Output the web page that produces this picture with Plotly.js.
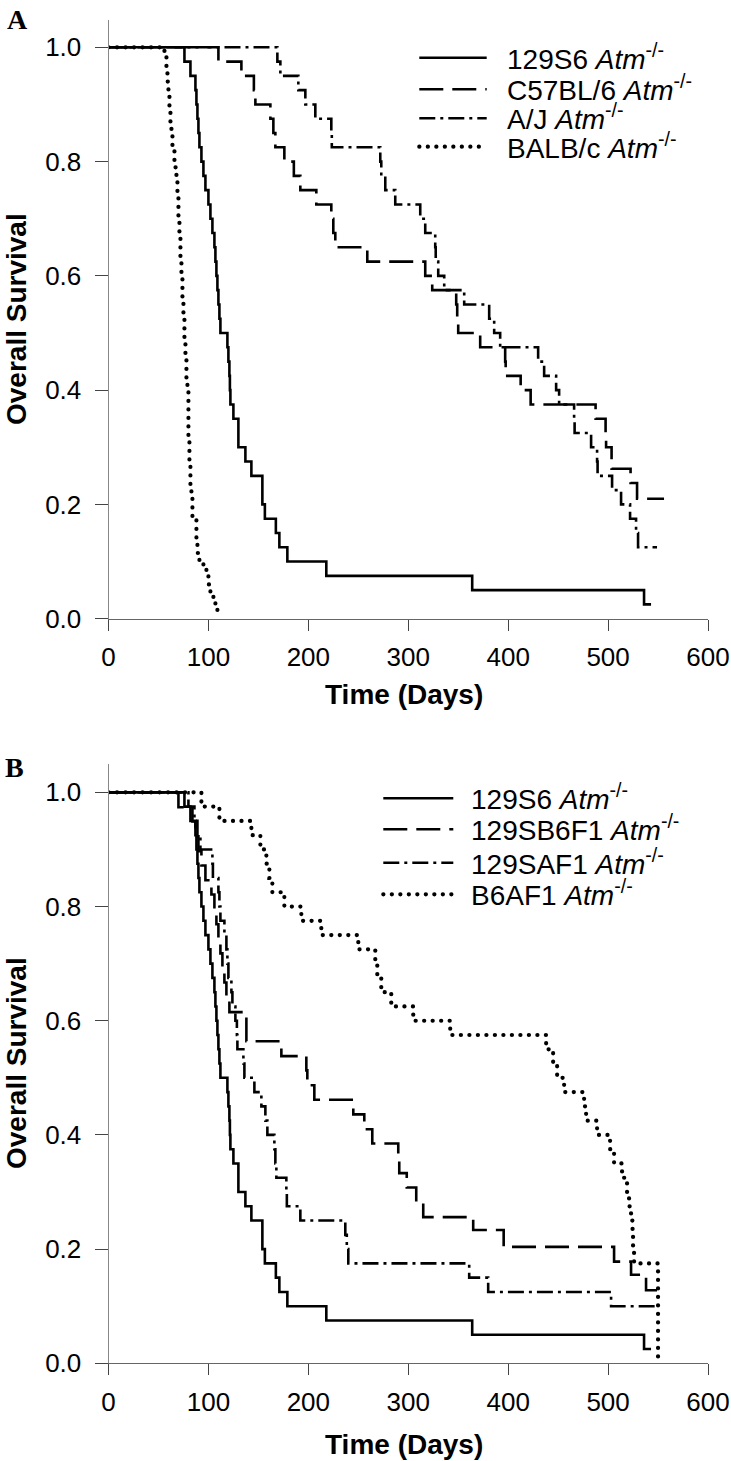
<!DOCTYPE html>
<html>
<head>
<meta charset="utf-8">
<script src="https://cdn.plot.ly/plotly-3.0.1.min.js"></script>
<style>
  html, body { margin: 0; padding: 0; background: #fff; }
  #chart { width: 731px; height: 1461px; }
</style>
</head>
<body>
<div id="chart"></div>
<script>
// ---------------- Panel A data (Kaplan-Meier steps: time in days, survival fraction) ----------------
const a129S6Days = [0,76,82,87,88,89,90,91,93,95,97,100,102,104,106,107,108,109,110,111,112,119,120,121,121.5,122,125,130,137,143,154,156.5,167.5,171,179,218,364,536,543];
const a129S6Surv = [1,.975,.95,.925,.9,.875,.85,.825,.8,.775,.75,.725,.7,.675,.65,.625,.6,.575,.55,.525,.5,.475,.45,.425,.4,.375,.35,.3,.275,.25,.2,.175,.15,.125,.1,.075,.05,.025,.025];

const aC57Days = [0,110,133,145.5,147,162,165,167,176,185.5,192,208,223,225,227,259,317,324,348,349,350,372,397,397.5,412.5,422.5,487.5,497.5,498,503.5,522.5,529,556];
const aC57Surv = [1,.975,.95,.925,.9,.875,.85,.825,.8,.775,.75,.725,.7,.675,.65,.625,.6,.575,.55,.525,.5,.475,.45,.425,.4,.375,.35,.325,.3,.2625,.2375,.21,.21];

const aAJDays = [0,169,172,190,197,207,223,223.5,272,273,277,287,312,317,327,327.5,330,336,356,381,386,392,430,436,448,451,466,466.5,483,489,489.5,504,513,522,528,530,549];
const aAJSurv = [1,.975,.95,.925,.9,.875,.85,.825,.8,.775,.75,.725,.7,.675,.65,.625,.6,.575,.55,.525,.5,.475,.45,.425,.4,.375,.35,.325,.3,.275,.25,.225,.2,.175,.15,.125,.125];

const aBALBDays = [0,56,58,59,60,61,62,63,64,66,67,68,69,70,71,72,73,74,75,76,77,78,79,80,81,82,83,84,88,89,91,95,98,100,102,105,107,109];
const aBALBSurv = [1,.985,.96,.94,.92,.89,.87,.845,.82,.80,.79,.77,.74,.70,.675,.625,.60,.56,.525,.49,.46,.42,.40,.31,.27,.235,.21,.175,.14,.115,.10,.09,.075,.06,.045,.035,.025,.012];

// ---------------- Panel B data ----------------
const b129S6Days = a129S6Days;
const b129S6Surv = a129S6Surv;

const bSB6F1Days = [0,70,84,87,90,93,97,103,106,108,110,112,114,116,118,121,138,173,198,199,206,245,256,264,290,291,298.5,308,315,365,395.5,506,523,538,549];
const bSB6F1Surv = [1,.974,.949,.923,.897,.872,.846,.821,.795,.769,.744,.718,.692,.667,.641,.615,.564,.538,.513,.487,.4615,.436,.41,.385,.359,.333,.308,.282,.256,.2335,.204,.178,.155,.128,.128];

const bSAF1Days = [0,80,86,89,92,104,104.5,110,111,112,116,118,119,120,123,124,127,128.5,129,135,136,146,153,157,159,166,167,168,178,178.5,192,237,238.5,240,361,380,503,548];
const bSAF1Surv = [1,.975,.95,.925,.9,.875,.85,.825,.8,.775,.75,.725,.7,.675,.65,.625,.6,.575,.55,.525,.5,.475,.45,.425,.4,.375,.35,.325,.3,.275,.25,.225,.2,.175,.15,.125,.1,.1];

const bB6AF1Days = [0,93,111,143,152,158,161,164,176,193,213,250,267,269,273,283,305,342,438,445,449,456,476,478,489,502,506,514,519,521,523,524.5,525,526,550];
const bB6AF1Surv = [1,.975,.95,.925,.9,.875,.85,.825,.8,.775,.75,.725,.7,.675,.65,.625,.6,.575,.55,.525,.5,.475,.45,.425,.4,.375,.35,.325,.3,.275,.25,.225,.2,.175,0];

const xTicks = [0,100,200,300,400,500,600];
const yTicks = [0,0.2,0.4,0.6,0.8,1.0];

const legendA = ['129S6 <i>Atm</i><sup>-/-</sup>', 'C57BL/6 <i>Atm</i><sup>-/-</sup>', 'A/J <i>Atm</i><sup>-/-</sup>', 'BALB/c <i>Atm</i><sup>-/-</sup>'];
const legendB = ['129S6 <i>Atm</i><sup>-/-</sup>', '129SB6F1 <i>Atm</i><sup>-/-</sup>', '129SAF1 <i>Atm</i><sup>-/-</sup>', 'B6AF1 <i>Atm</i><sup>-/-</sup>'];

// ---------------- styles ----------------
const W = 731, H = 1461;
const px = v => v / W;
const py = v => 1 - v / H;
const DOT = '0.1px,8.4px';
const styles = [
  {dash: 'solid', width: 2.6},
  {dash: '24px,9px', width: 2.6},
  {dash: '16px,5px,3px,5px', width: 2.6},
  {dash: DOT, width: 4.2}
];

function trace(x, y, st, xa, ya) {
  return {type: 'scatter', mode: 'lines', x: x, y: y, xaxis: xa, yaxis: ya,
          line: {shape: 'hv', color: '#000', width: st.width, dash: st.dash},
          showlegend: false, hoverinfo: 'skip'};
}

const data = [
  trace(a129S6Days, a129S6Surv, styles[0], 'x', 'y'),
  trace(aC57Days, aC57Surv, styles[1], 'x', 'y'),
  trace(aAJDays, aAJSurv, styles[2], 'x', 'y'),
  trace(aBALBDays, aBALBSurv, styles[3], 'x', 'y'),
  trace(b129S6Days, b129S6Surv, styles[0], 'x2', 'y2'),
  trace(bSB6F1Days, bSB6F1Surv, styles[1], 'x2', 'y2'),
  trace(bSAF1Days, bSAF1Surv, styles[2], 'x2', 'y2'),
  trace(bB6AF1Days, bB6AF1Surv, styles[3], 'x2', 'y2')
];

const tickFont = {family: 'Liberation Sans, Arial, sans-serif', size: 26, color: '#000'};
function xAxis(anchor) {
  return {domain: [px(108.5), px(708)], range: [0, 600], anchor: anchor,
          tickmode: 'array', tickvals: xTicks, ticks: 'outside', ticklen: 11, tickwidth: 1, tickcolor: '#444',
          showline: true, linecolor: '#666', linewidth: 1, showgrid: false, zeroline: false,
          tickfont: tickFont, ticklabelstandoff: 4, fixedrange: true};
}
function yAxis(anchor, dom, top) {
  return {domain: dom, range: [0, top], anchor: anchor,
          tickmode: 'array', tickvals: yTicks, ticktext: yTicks.map(v => v.toFixed(1)),
          ticks: 'outside', ticklen: 13, tickwidth: 1, tickcolor: '#444',
          showline: true, linecolor: '#888', linewidth: 1, showgrid: false, zeroline: false,
          tickfont: tickFont, ticklabelstandoff: 8, fixedrange: true};
}

const titleFont = {family: 'Liberation Sans, Arial, sans-serif', size: 28, color: '#000', weight: 'bold'};
const legFont = {family: 'Liberation Sans, Arial, sans-serif', size: 28, color: '#000'};

const annotations = [
  {text: '<b>A</b>', x: px(5), y: py(2), xref: 'paper', yref: 'paper', xanchor: 'left', yanchor: 'top', showarrow: false,
   font: {family: 'Liberation Serif, Times New Roman, serif', size: 28, color: '#000'}},
  {text: '<b>B</b>', x: px(3), y: py(750), xref: 'paper', yref: 'paper', xanchor: 'left', yanchor: 'top', showarrow: false,
   font: {family: 'Liberation Serif, Times New Roman, serif', size: 28, color: '#000'}},
  {text: '<b>Overall Survival</b>', x: px(16), y: py(319), xref: 'paper', yref: 'paper', xanchor: 'center', yanchor: 'middle',
   textangle: -90, showarrow: false, font: titleFont},
  {text: '<b>Overall Survival</b>', x: px(16), y: py(1063), xref: 'paper', yref: 'paper', xanchor: 'center', yanchor: 'middle',
   textangle: -90, showarrow: false, font: titleFont},
  {text: '<b>Time (Days)</b>', x: px(404), y: py(694), xref: 'paper', yref: 'paper', xanchor: 'center', yanchor: 'middle',
   showarrow: false, font: titleFont},
  {text: '<b>Time (Days)</b>', x: px(404), y: py(1444), xref: 'paper', yref: 'paper', xanchor: 'center', yanchor: 'middle',
   showarrow: false, font: titleFont}
];
const shapes = [];

const rowsA = [57.7, 89.3, 118.3, 146.7];
const rowsB = [798.3, 829.3, 862.7, 894.3];
function addLegend(labels, rows, x0, x1, tx) {
  labels.forEach((lab, i) => {
    shapes.push({type: 'line', xref: 'paper', yref: 'paper', x0: px(x0), x1: px(x1), y0: py(rows[i]), y1: py(rows[i]),
                 line: {color: '#000', width: styles[i].width, dash: styles[i].dash}});
    annotations.push({text: lab, x: px(tx), y: py(rows[i] - 1), xref: 'paper', yref: 'paper', xanchor: 'left', yanchor: 'middle',
                      showarrow: false, font: legFont});
  });
}
addLegend(legendA, rowsA, 419.3, 486.7, 505);
addLegend(legendB, rowsB, 383.3, 453.3, 469);

const layout = {
  width: W, height: H,
  margin: {l: 0, r: 0, t: 0, b: 0},
  paper_bgcolor: '#fff', plot_bgcolor: '#fff',
  showlegend: false,
  xaxis: xAxis('y'),
  yaxis: yAxis('x', [py(618.7), py(20)], 1.0478),
  xaxis2: xAxis('y2'),
  yaxis2: yAxis('x2', [py(1363.3), py(763.8)], 1.05),
  annotations: annotations,
  shapes: shapes
};

Plotly.newPlot('chart', data, layout, {staticPlot: true, displayModeBar: false}).then(() => {
  document.querySelectorAll('#chart path').forEach(p => {
    const d = (p.style.strokeDasharray || '').replace(/\s/g, '');
    if (d.indexOf('0.1px') === 0) p.style.strokeLinecap = 'round';
  });
});
</script>
</body>
</html>
